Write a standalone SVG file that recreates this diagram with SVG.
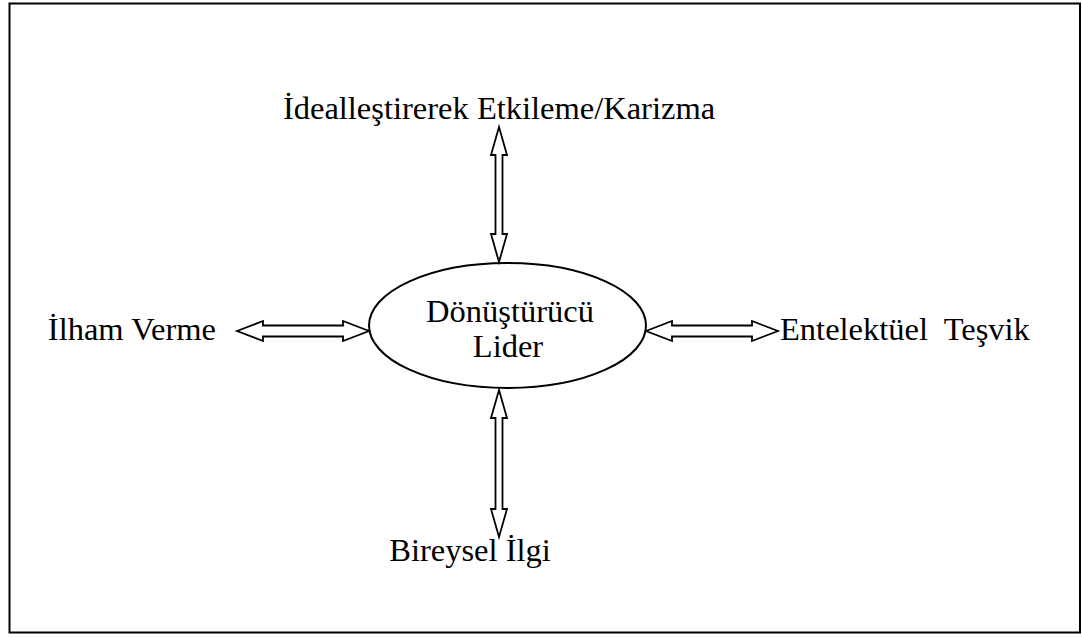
<svg xmlns="http://www.w3.org/2000/svg" width="1082" height="637" viewBox="0 0 1082 637">
<style>
.t{font-family:"Liberation Serif","Times New Roman",serif;font-size:32.5px;fill:#000}
.a{fill:#fff;stroke:#000;stroke-width:1.8;stroke-linejoin:miter}
</style>
<rect x="0" y="0" width="1082" height="637" fill="#fff"/>
<rect x="9.5" y="3.5" width="1070.5" height="629" fill="none" stroke="#000" stroke-width="2"/>
<g id="center">
<ellipse cx="507.5" cy="325.5" rx="138.5" ry="62.5" fill="#fff" stroke="#000" stroke-width="2"/>
<text class="t" x="510" y="322" text-anchor="middle">Dönüştürücü</text>
<text class="t" x="508" y="357" text-anchor="middle">Lider</text>
</g>
<g id="top">
<text class="t" x="499" y="119" text-anchor="middle">İdealleştirerek Etkileme/Karizma</text>
</g>
<g id="left">
<text class="t" x="216" y="340" text-anchor="end">İlham Verme</text>
</g>
<g id="right">
<text class="t" x="780" y="340" xml:space="preserve">Entelektüel  Teşvik</text>
</g>
<g id="bottom">
<text class="t" x="470" y="561" text-anchor="middle">Bireysel İlgi</text>
</g>
<g id="connectors">
<polygon class="a" points="237,331 263,321 263,325.5 343,325.5 343,321 369,331 343,341 343,336.5 263,336.5 263,341"/>
<polygon class="a" points="646,331 672,321 672,325.5 752,325.5 752,321 778,331 752,341 752,336.5 672,336.5 672,341"/>
<polygon class="a" points="499,127 507,155 502.5,155 502.5,234 507,234 499,262 491,234 495.5,234 495.5,155 491,155"/>
<polygon class="a" points="499,390 507,418 502.5,418 502.5,509 507,509 499,537 491,509 495.5,509 495.5,418 491,418"/>
</g>
</svg>
